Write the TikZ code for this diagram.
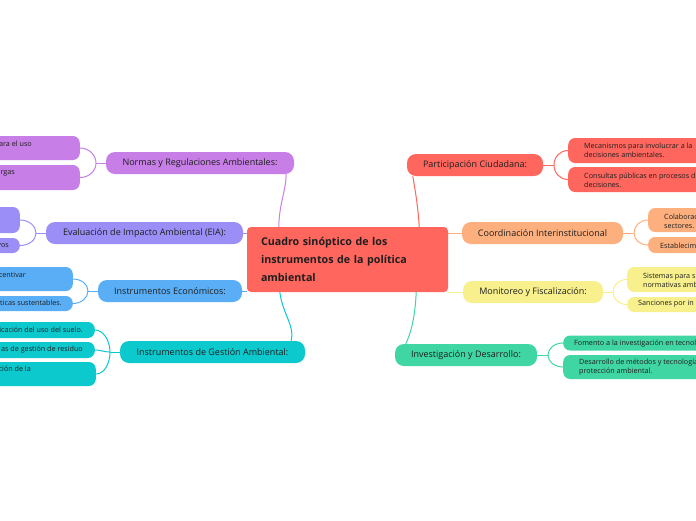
\documentclass[tikz,border=0pt]{standalone}
\usepackage{fontspec}
\setmainfont{Open Sans}
\definecolor{cred}{HTML}{FF665E}
\definecolor{cnorm}{HTML}{C77EE6}
\definecolor{ceia}{HTML}{9B8EF7}
\definecolor{cecon}{HTML}{5AAEF5}
\definecolor{cgest}{HTML}{0CC9CE}
\definecolor{ccoord}{HTML}{FDB07E}
\definecolor{cmon}{HTML}{F7F08C}
\definecolor{cinv}{HTML}{40D6A3}
\definecolor{ctext}{HTML}{1E1E1E}
\pgfdeclarelayer{bg}
\pgfsetlayers{bg,main}
\tikzset{
  branch/.style={rounded corners=9pt, minimum height=22, inner sep=0, text=ctext, font=\fontsize{9}{11}\selectfont},
  leafbox/.style={rounded corners=7pt, minimum width=160, inner sep=0},
  leaftext/.style={inner sep=0, align=left, text=ctext, font=\fontsize{7.2}{8.8}\selectfont},
  conn/.style={line width=1pt}
}
\begin{document}
\begin{tikzpicture}[x=1pt,y=-1pt]
\useasboundingbox (0,0) rectangle (696,520);
\begin{pgfonlayer}{bg}
\fill[white] (0,0) rectangle (696,520);
\end{pgfonlayer}
\clip (0,0) rectangle (696,520);

% central
\node[fill=cred, rounded corners=4pt, minimum width=201, minimum height=65, inner xsep=14, inner ysep=0,
      text width=173, align=left, text=ctext, font=\bfseries\fontsize{10.7}{17.7}\selectfont]
  (c) at (347.5,259.5) {Cuadro sinóptico de los\\instrumentos de la política\\ambiental};

% branches
\node[branch, fill=cnorm, minimum width=188] (normas) at (200,163) {Normas y Regulaciones Ambientales:};
\node[branch, fill=ceia, minimum width=197] (eia) at (144.5,233) {Evaluación de Impacto Ambiental (EIA):};
\node[branch, fill=cecon, minimum width=144] (econ) at (170,291) {Instrumentos Económicos:};
\node[branch, fill=cgest, minimum width=185] (gest) at (212.5,352) {Instrumentos de Gestión Ambiental:};
\node[branch, fill=cred, minimum width=136] (part) at (475,165) {Participación Ciudadana:};
\node[branch, fill=ccoord, minimum width=161] (coord) at (542.5,233) {Coordinación Interinstitucional};
\node[branch, fill=cmon, minimum width=140] (mon) at (533,292) {Monitoreo y Fiscalización:};
\node[branch, fill=cinv, minimum width=142] (inv) at (466,355) {Investigación y Desarrollo:};

% left leaves
\node[leafbox, fill=cnorm, minimum height=24, anchor=east] (nl1) at (80,148) {};
\node[leafbox, fill=cnorm, minimum height=25, anchor=east] (nl2) at (80,177.5) {};
\node[leafbox, fill=ceia, minimum height=26, anchor=east] (el1) at (20,220) {};
\node[leafbox, fill=ceia, minimum height=15, anchor=east] (el2) at (20,245.5) {};
\node[leafbox, fill=cecon, minimum height=24, anchor=east] (ecl1) at (73,279) {};
\node[leafbox, fill=cecon, minimum height=15, anchor=east] (ecl2) at (73,303.5) {};
\node[leafbox, fill=cgest, minimum height=16, anchor=east] (gl1) at (95,330) {};
\node[leafbox, fill=cgest, minimum height=16, anchor=east] (gl2) at (95,350) {};
\node[leafbox, fill=cgest, minimum height=24, anchor=east] (gl3) at (96,374) {};

\node[leaftext, anchor=east] (tnl1) at (32,144) {ara el uso};
\node[leaftext, anchor=east] (tnl2) at (15,173) {rgas};
\node[leaftext, anchor=east] (tel2) at (9,246) {vos};
\node[leaftext, anchor=east] (tecl1) at (26,275) {centivar};
\node[leaftext, anchor=east] (tecl2) at (62,303) {ticas sustentables.};
\node[leaftext, anchor=east] (tgl1) at (83,330) {icación del uso del suelo.};
\node[leaftext, anchor=east] (tgl2) at (83,350) {as de gestión de residuo};
\node[leaftext, anchor=east] (tgl3) at (31,369) {ción de la};

% right leaves
\node[leafbox, fill=cred, minimum height=25, anchor=west] (pl1) at (568,150.5) {};
\node[leafbox, fill=cred, minimum height=25, anchor=west] (pl2) at (568,179.5) {};
\node[leafbox, fill=ccoord, minimum height=24, anchor=west] (cl1) at (648,220) {};
\node[leafbox, fill=ccoord, minimum height=16, anchor=west] (cl2) at (648,245) {};
\node[leafbox, fill=cmon, minimum height=25, anchor=west] (ml1) at (627,279.5) {};
\node[leafbox, fill=cmon, minimum height=15, anchor=west] (ml2) at (627,304.5) {};
\node[leafbox, fill=cinv, minimum height=15, anchor=west] (il1) at (563,343) {};
\node[leafbox, fill=cinv, minimum height=24, anchor=west] (il2) at (563,367) {};

\node[leaftext, anchor=west] (tpl1) at (584,150.5) {Mecanismos para involucrar a la\\decisiones ambientales.};
\node[leaftext, anchor=west] (tpl2) at (584,180) {Consultas públicas en procesos d\\decisiones.};
\node[leaftext, anchor=west] (tcl1) at (664,221) {Colaborac\\sectores.};
\node[leaftext, anchor=west] (tcl2) at (660,246) {Establecim};
\node[leaftext, anchor=west] (tml1) at (643,280) {Sistemas para s\\normativas amb};
\node[leaftext, anchor=west] (tml2) at (638,304) {Sanciones por in};
\node[leaftext, anchor=west] (til1) at (574,344) {Fomento a la investigación en tecnol};
\node[leaftext, anchor=west] (til2) at (579,367) {Desarrollo de métodos y tecnología\\protección ambiental.};

% junctions
\coordinate (jn) at (96,163);
\coordinate (je) at (36,233);
\coordinate (jc) at (88,291);
\coordinate (jg) at (110,352);
\coordinate (jp) at (554,165);
\coordinate (jo) at (634,233);
\coordinate (jm) at (613,292);
\coordinate (ji) at (548,355);

\begin{pgfonlayer}{bg}
% central to branches
\draw[conn, cnorm] ([xshift=32pt]c.north west) .. controls (279,205) and (286,190) .. ([xshift=-8pt]normas.south east);
\draw[conn, ceia] (eia.east) -- (eia.east -| c.west);
\draw[conn, cecon] (econ.east) -- (econ.east -| c.west);
\draw[conn, cgest] ([xshift=33pt]c.south west) .. controls (283,315) and (295,326) .. ([xshift=-14pt]gest.north east);
\draw[conn, cred] ([xshift=-29pt]c.north east) .. controls (418,205) and (415,190) .. ([xshift=6pt]part.south west);
\draw[conn, ccoord] (coord.west) -- (coord.west -| c.east);
\draw[conn, cmon] (mon.west) -- (mon.west -| c.east);
\draw[conn, cinv] ([xshift=-32pt]c.south east) .. controls (415,320) and (410,335) .. ([xshift=11pt]inv.north west);

% branch to leaves
\draw[conn, cnorm] (normas.west) -- (jn);
\draw[conn, cnorm] (jn) .. controls +(0,-8) and +(9,0) .. (nl1.east);
\draw[conn, cnorm] (jn) .. controls +(0,8) and +(9,0) .. (nl2.east);
\draw[conn, ceia] (eia.west) -- (je);
\draw[conn, ceia] (je) .. controls +(0,-7) and +(9,0) .. (el1.east);
\draw[conn, ceia] (je) .. controls +(0,7) and +(9,0) .. (el2.east);
\draw[conn, cecon] (econ.west) -- (jc);
\draw[conn, cecon] (jc) .. controls +(0,-7) and +(8,0) .. (ecl1.east);
\draw[conn, cecon] (jc) .. controls +(0,7) and +(8,0) .. (ecl2.east);
\draw[conn, cgest] (gest.west) -- (jg);
\draw[conn, cgest] (jg) .. controls +(0,-12) and +(8,0) .. (gl1.east);
\draw[conn, cgest] (jg) .. controls +(-6,0) and +(6,0) .. (gl2.east);
\draw[conn, cgest] (jg) .. controls +(0,12) and +(8,0) .. (gl3.east);
\draw[conn, cred] (part.east) -- (jp);
\draw[conn, cred] (jp) .. controls +(0,-8) and +(-8,0) .. (pl1.west);
\draw[conn, cred] (jp) .. controls +(0,8) and +(-8,0) .. (pl2.west);
\draw[conn, ccoord] (coord.east) -- (jo);
\draw[conn, ccoord] (jo) .. controls +(0,-7) and +(-8,0) .. (cl1.west);
\draw[conn, ccoord] (jo) .. controls +(0,7) and +(-8,0) .. (cl2.west);
\draw[conn, cmon] (mon.east) -- (jm);
\draw[conn, cmon] (jm) .. controls +(0,-7) and +(-8,0) .. (ml1.west);
\draw[conn, cmon] (jm) .. controls +(0,7) and +(-8,0) .. (ml2.west);
\draw[conn, cinv] (inv.east) -- (ji);
\draw[conn, cinv] (ji) .. controls +(0,-7) and +(-8,0) .. (il1.west);
\draw[conn, cinv] (ji) .. controls +(0,7) and +(-8,0) .. (il2.west);
\end{pgfonlayer}
\end{tikzpicture}
\end{document}
